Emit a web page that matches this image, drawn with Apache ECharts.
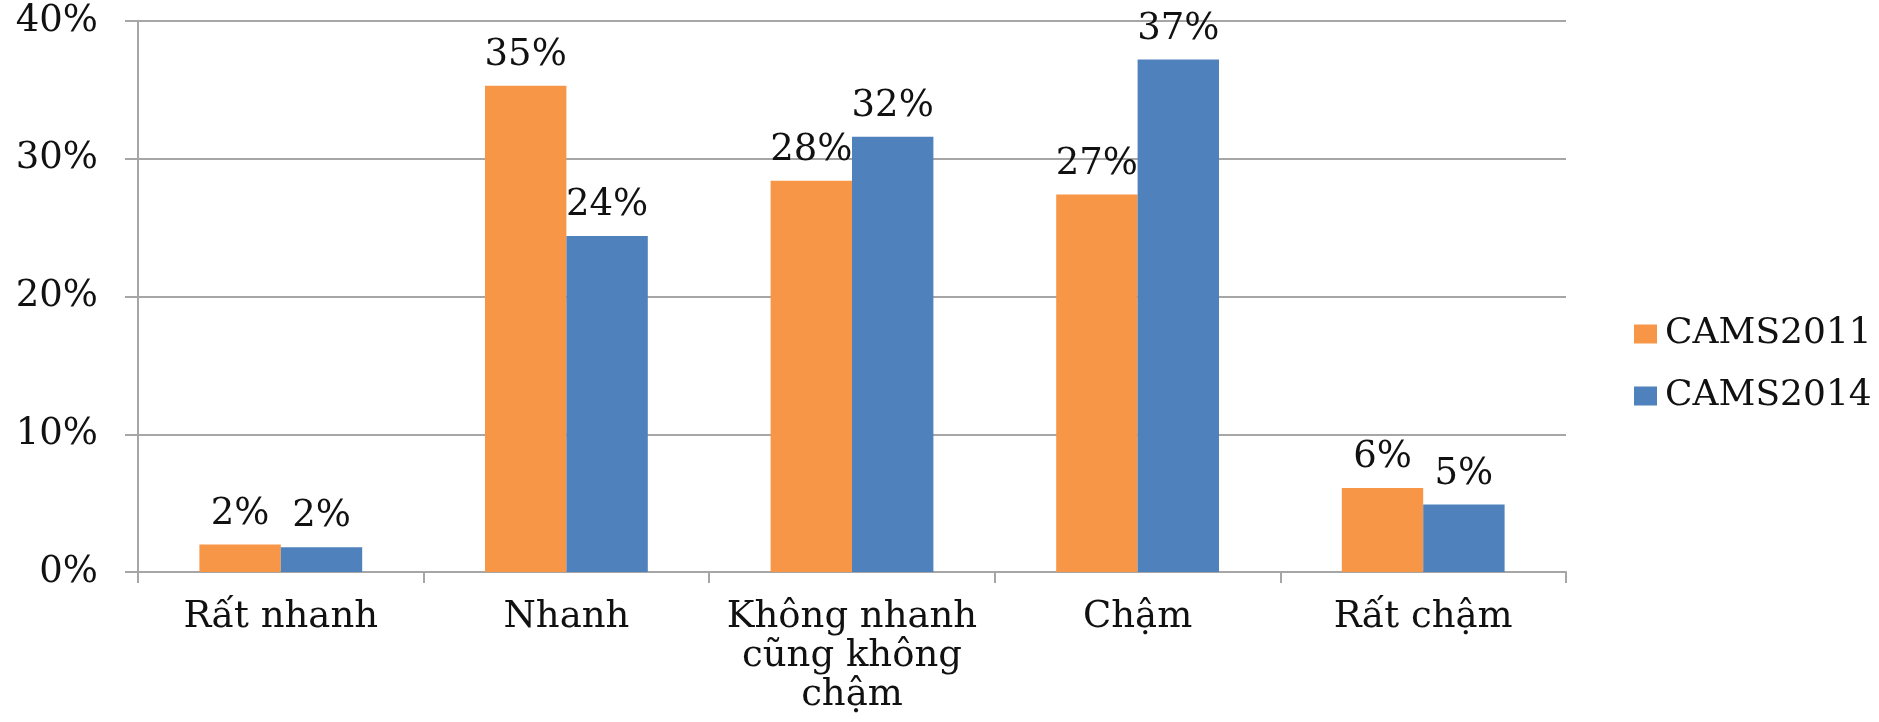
<!DOCTYPE html>
<html>
<head>
<meta charset="utf-8">
<script src="https://cdn.jsdelivr.net/npm/echarts@6/dist/echarts.min.js"></script>
<style>
html,body{margin:0;padding:0;background:#fff;}
#chart{width:1879px;height:722px;}
</style>
</head>
<body>
<div id="chart"></div>
<script>
var categories = ["Rất nhanh", "Nhanh", "Không nhanh\ncũng không\nchậm", "Chậm", "Rất chậm"];
var seriesNames = ["CAMS2011", "CAMS2014"];
var cams2011 = [2.0, 35.3, 28.4, 27.4, 6.1];
var cams2014 = [1.8, 24.4, 31.6, 37.2, 4.9];
var yTicks = {min: 0, max: 40, interval: 10};

var FONT = "DejaVu Serif";
var chart = echarts.init(document.getElementById('chart'));
var labelCfg = {
  show: true,
  position: 'top',
  distance: 12,
  fontFamily: FONT,
  fontSize: 37,
  color: '#111',
  formatter: function (p) { return Math.round(p.value) + '%'; }
};
chart.setOption({
  animation: false,
  backgroundColor: '#ffffff',
  grid: {left: 138, right: 313, top: 21, bottom: 150, containLabel: false},
  legend: {
    orient: 'vertical',
    left: 1629,
    top: 311,
    itemWidth: 23,
    itemHeight: 19,
    itemGap: 26,
    icon: 'rect',
    textStyle: {fontFamily: FONT, fontSize: 36, color: '#111', lineHeight: 36, padding: [0, 0, 0, 3]},
    data: seriesNames
  },
  xAxis: {
    type: 'category',
    data: categories,
    boundaryGap: true,
    axisLine: {lineStyle: {color: '#a6a6a6', width: 2}},
    axisTick: {show: true, length: 11, alignWithLabel: false, lineStyle: {color: '#a6a6a6', width: 2}},
    axisLabel: {
      interval: 0,
      margin: 26,
      fontFamily: FONT,
      fontSize: 37,
      lineHeight: 39,
      color: '#111',
      align: 'center'
    }
  },
  yAxis: {
    type: 'value',
    min: yTicks.min,
    max: yTicks.max,
    interval: yTicks.interval,
    axisLine: {show: true, lineStyle: {color: '#a6a6a6', width: 2}},
    axisTick: {show: true, length: 13, lineStyle: {color: '#a6a6a6', width: 2}},
    splitLine: {show: true, lineStyle: {color: '#a6a6a6', width: 2}},
    axisLabel: {
      margin: 40,
      fontFamily: FONT,
      fontSize: 37,
      color: '#111',
      formatter: '{value}%'
    }
  },
  series: [
    {
      name: seriesNames[0],
      type: 'bar',
      data: cams2011,
      barGap: '0%',
      barCategoryGap: '43%',
      itemStyle: {color: '#F79646'},
      label: labelCfg
    },
    {
      name: seriesNames[1],
      type: 'bar',
      data: cams2014,
      barGap: '0%',
      barCategoryGap: '43%',
      itemStyle: {color: '#4F81BD'},
      label: labelCfg
    }
  ]
});
</script>
</body>
</html>
